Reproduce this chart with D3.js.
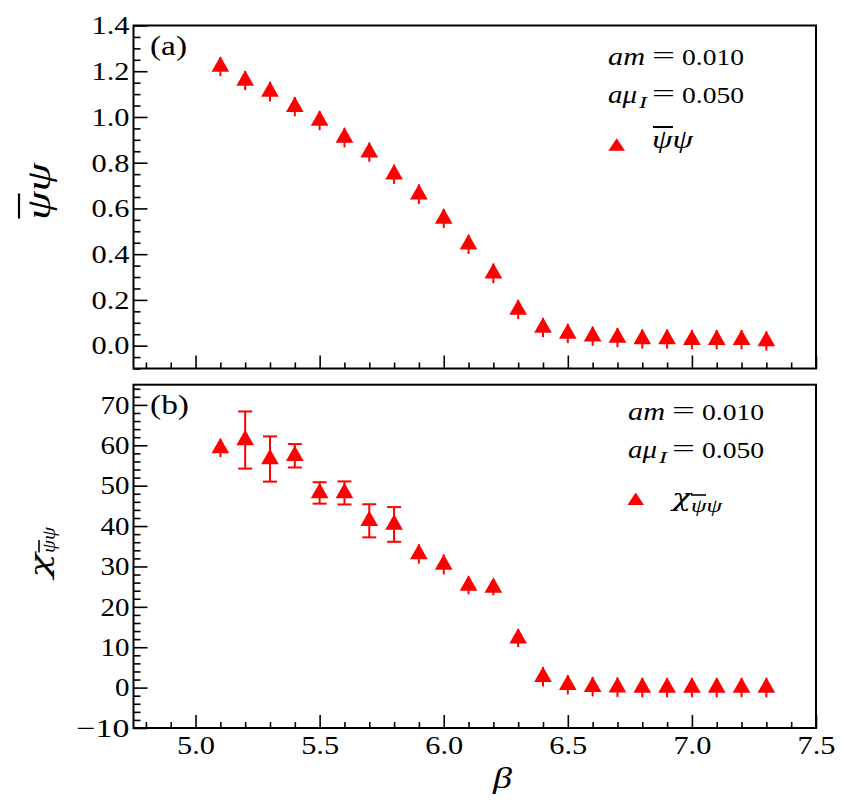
<!DOCTYPE html>
<html><head><meta charset="utf-8">
<script src="https://cdn.jsdelivr.net/npm/d3@7"></script>
<style>body{margin:0;background:#fff}</style>
</head><body>
<svg id="c" width="846" height="805"></svg>
<script>
// ---------- data ----------
const beta = [5.1,5.2,5.3,5.4,5.5,5.6,5.7,5.8,5.9,6.0,6.1,6.2,6.3,6.4,6.5,6.6,6.7,6.8,6.9,7.0,7.1,7.2,7.3];
const pbp = [1.220,1.159,1.111,1.045,0.984,0.910,0.846,0.749,0.662,0.556,0.443,0.316,0.158,0.079,0.053,0.041,0.035,0.029,0.029,0.026,0.026,0.026,0.020];
const pbpErr = [0.042,0.042,0.043,0.042,0.042,0.043,0.042,0.042,0.043,0.042,0.042,0.043,0.042,0.042,0.042,0.042,0.042,0.042,0.042,0.042,0.042,0.042,0.042];
const chi = [59.3,61.3,56.6,57.4,48.2,48.2,41.3,40.4,33.1,30.5,25.3,24.8,12.2,2.7,0.7,0.2,0.1,0.0,0.0,0.0,0.0,0.0,0.0];
const chiErr = [2.2,7.07,5.6,2.9,2.65,2.85,4.1,4.3,2.4,2.5,2.2,1.95,2.15,2.4,2.4,2.4,2.4,2.4,2.4,2.4,2.4,2.4,2.4];
const xMajor = [5.0,5.5,6.0,6.5,7.0,7.5];
const yMajorA = [0.0,0.2,0.4,0.6,0.8,1.0,1.2,1.4];
const yMajorB = [-10,0,10,20,30,40,50,60,70];
const amText = "0.010";
const muText = "0.050";

// ---------- layout ----------
const L = 133.5, R = 816;
const A = {top: 25.5, bottom: 368.5};
const B = {top: 384.7, bottom: 728};
const RED = "#ff0000";
const FONT = "Liberation Serif";
const GREEK = "DejaVu Serif";

const svg = d3.select("#c");
const x = d3.scaleLinear().domain([4.75, 7.5]).range([L, R]);
const yA = d3.scaleLinear().domain([-0.1, 1.4]).range([A.bottom, A.top]);
const yB = d3.scaleLinear().domain([-10, 75]).range([B.bottom, B.top]);

const xMinor = d3.range(48, 75).map(d => d / 10).filter(d => !xMajor.some(m => Math.abs(m - d) < 1e-9));

function numW(s, dW, pW, mW) {
  let w = 0;
  for (const c of s) w += (c === ".") ? pW : (c === "\u2212" || c === "-") ? mW : dW;
  return w;
}

function styleNums(g) {
  g.selectAll("text").attr("font-family", FONT).attr("font-size", 26).attr("fill", "#000")
    .each(function () {
      const s = this.textContent;
      if (s) d3.select(this).attr("textLength", numW(s, 14.5, 9, 24)).attr("lengthAdjust", "spacingAndGlyphs");
    });
}

function panel(P, y, yMajor, yMinor, fmt, showX) {
  svg.append("g").attr("transform", `translate(${L},0)`)
    .call(d3.axisLeft(y).tickValues(yMinor).tickSize(-7).tickFormat(""))
    .call(g => g.select(".domain").remove())
    .call(g => g.selectAll("line").attr("stroke", "#000").attr("stroke-width", 1.6));
  svg.append("g").attr("transform", `translate(${L},0)`)
    .call(d3.axisLeft(y).tickValues(yMajor).tickSize(-14).tickPadding(4).tickFormat(fmt))
    .call(g => g.select(".domain").remove())
    .call(g => g.selectAll("line").attr("stroke", "#000").attr("stroke-width", 1.6))
    .call(styleNums);
  svg.append("g").attr("transform", `translate(0,${P.bottom})`)
    .call(d3.axisBottom(x).tickValues(xMinor).tickSize(-6).tickFormat(""))
    .call(g => g.select(".domain").remove())
    .call(g => g.selectAll("line").attr("stroke", "#000").attr("stroke-width", 1.6));
  svg.append("g").attr("transform", `translate(0,${P.bottom})`)
    .call(d3.axisBottom(x).tickValues(xMajor).tickSize(-13).tickPadding(8)
      .tickFormat(showX ? d3.format(".1f") : ""))
    .call(g => g.select(".domain").remove())
    .call(g => g.selectAll("line").attr("stroke", "#000").attr("stroke-width", 1.6))
    .call(styleNums);
  svg.append("rect").attr("x", L).attr("y", P.top).attr("width", R - L).attr("height", P.bottom - P.top)
    .attr("fill", "none").attr("stroke", "#000").attr("stroke-width", 2);
}

const yMinorA = d3.range(-2, 29).map(d => d * 0.05).filter(d => Math.abs(d * 5 - Math.round(d * 5)) > 1e-6);
const yMinorB = d3.range(-5, 38).map(d => d * 2).filter(d => d % 10 !== 0);
panel(A, yA, yMajorA, yMinorA, d3.format(".1f"), false);
panel(B, yB, yMajorB, yMinorB, d3.format("d"), true);

// triangle marker centred at its centroid
const tri = "M0,-10.3L8.85,5.2L-8.85,5.2Z";
function series(y, vals, errs) {
  const g = svg.append("g");
  beta.forEach((b, i) => {
    const cx = x(b), cy = y(vals[i]);
    const y1 = y(vals[i] + errs[i]), y2 = y(vals[i] - errs[i]);
    g.append("line").attr("x1", cx).attr("x2", cx).attr("y1", y1).attr("y2", y2)
      .attr("stroke", RED).attr("stroke-width", 2);
    if (cy - y1 > 10.5) {
      [y1, y2].forEach(yy => g.append("line").attr("x1", cx - 7).attr("x2", cx + 7)
        .attr("y1", yy).attr("y2", yy).attr("stroke", RED).attr("stroke-width", 2));
    }
  });
  g.selectAll("path.m").data(beta).join("path").attr("class", "m")
    .attr("d", tri).attr("fill", RED)
    .attr("transform", (b, i) => `translate(${x(b)},${y(vals[i])})`);
}
series(yA, pbp, pbpErr);
series(yB, chi, chiErr);

// ---------- texts ----------
function T(parent, xp, yp, s, size, italic, width, anchor, fam) {
  const t = parent.append("text").attr("x", xp).attr("y", yp).text(s)
    .attr("font-family", fam || FONT).attr("font-size", size)
    .attr("font-style", italic ? "italic" : "normal")
    .attr("text-anchor", anchor || "start").attr("fill", "#000");
  if (width) t.attr("textLength", width).attr("lengthAdjust", "spacingAndGlyphs");
  return t;
}
function bar(parent, x1, x2, yy, w) {
  parent.append("line").attr("x1", x1).attr("x2", x2).attr("y1", yy).attr("y2", yy)
    .attr("stroke", "#000").attr("stroke-width", w || 1.6);
}

T(svg, 150, 55, "(a)", 27, false, 37);
T(svg, 150, 414, "(b)", 27, false, 39);
T(svg, 493, 788, "β", 30, true, 19);

function params(x0, y0) {
  T(svg, x0, y0, "am", 26, true, 37);
  T(svg, x0 + 44, y0 - 1, "=", 26, false, 23);
  T(svg, x0 + 74, y0, amText, 24, false, 62);
  const y1 = y0 + 37.5;
  T(svg, x0, y1, "aμ", 26, true, 29);
  T(svg, x0 + 31, y1 + 5, "I", 16, true, 8);
  T(svg, x0 + 44, y1 - 1, "=", 26, false, 23);
  T(svg, x0 + 74, y1, muText, 24, false, 62);
}
params(608, 65);
params(628, 420);

// legend A
svg.append("path").attr("d", "M0,-8.3L8.3,4.1L-8.3,4.1Z").attr("fill", RED)
  .attr("transform", "translate(616.7,146.6)");
T(svg, 652, 148, "ψψ", 26, true, 41);
bar(svg, 653, 673, 127, 2);
// legend B
svg.append("path").attr("d", "M0,-8.3L8.3,4.1L-8.3,4.1Z").attr("fill", RED)
  .attr("transform", "translate(635.7,500.9)");
T(svg, 672, 506, "χ", 24, true, 19, "start", GREEK);
T(svg, 691, 512, "ψψ", 18, true, 31);
bar(svg, 691, 706, 495, 1.6);

// y labels
const gA = svg.append("g").attr("transform", "translate(50,191.5) rotate(-90)");
T(gA, -28.5, 0, "ψψ", 34, true, 57);
bar(gA, -27, -2, -31, 2.2);

const gB = svg.append("g").attr("transform", "translate(49,578) rotate(-90)");
T(gB, 0, 0, "χ", 26, true, 25, "start", GREEK);
T(gB, 25, 6, "ψψ", 18, true, 26);
bar(gB, 25.5, 38, -10, 1.6);
</script>
</body></html>
